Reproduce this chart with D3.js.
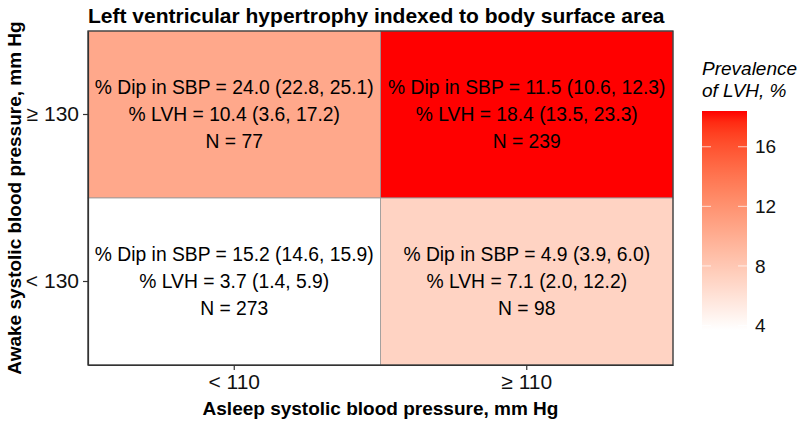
<!DOCTYPE html>
<html>
<head>
<meta charset="utf-8">
<script src="https://cdn.jsdelivr.net/npm/d3@7"></script>
<style>
  body { margin: 0; background: #fff; }
  text { font-family: "Liberation Sans", Arial, sans-serif; }
</style>
</head>
<body>
<div class="chart"></div>
<script>
var asleepCats = ["< 110", "≥ 110"];
var awakeCats = ["< 130", "≥ 130"];
var cellAsleep = ["< 110", "≥ 110", "< 110", "≥ 110"];
var cellAwake = ["≥ 130", "≥ 130", "< 130", "< 130"];
var lvh = [10.4, 18.4, 3.7, 7.1];
var dipText = ["24.0 (22.8, 25.1)", "11.5 (10.6, 12.3)", "15.2 (14.6, 15.9)", "4.9 (3.9, 6.0)"];
var lvhText = ["10.4 (3.6, 17.2)", "18.4 (13.5, 23.3)", "3.7 (1.4, 5.9)", "7.1 (2.0, 12.2)"];
var nText = [77, 239, 273, 98];
var legendTicks = [4, 8, 12, 16];

function init() {
  var w = 800, h = 422;
  var left = 88, right = 673, top = 31, bottom = 365;

  var svg = d3.select(".chart").append("svg")
    .attr("width", w).attr("height", h);

  var xScale = d3.scaleBand().domain(asleepCats).range([left, right]);
  var yScale = d3.scaleBand().domain(awakeCats).range([bottom, top]);
  var color = d3.scaleLinear().domain([3.7, 18.4]).range(["white", "red"])
    .interpolate(d3.interpolateLab);

  var cells = lvh.map(function(v, i) {
    return { x: cellAsleep[i], y: cellAwake[i], v: v, dip: dipText[i], l: lvhText[i], n: nText[i] };
  });

  svg.selectAll("rect.cell").data(cells).enter().append("rect")
    .attr("class", "cell")
    .attr("x", function(d) { return xScale(d.x); })
    .attr("y", function(d) { return yScale(d.y); })
    .attr("width", xScale.bandwidth())
    .attr("height", yScale.bandwidth())
    .attr("fill", function(d) { return color(d.v); })
    .attr("stroke", "#999")
    .attr("stroke-width", 0.8);

  var lab = svg.selectAll("g.lab").data(cells).enter().append("g")
    .attr("transform", function(d) {
      return "translate(" + (xScale(d.x) + xScale.bandwidth() / 2) + "," + (yScale(d.y) + yScale.bandwidth() / 2) + ")";
    });
  lab.append("text").attr("y", -27).text(function(d) { return "% Dip in SBP = " + d.dip; });
  lab.append("text").attr("y", 0).text(function(d) { return "% LVH = " + d.l; });
  lab.append("text").attr("y", 27).text(function(d) { return "N = " + d.n; });
  lab.selectAll("text")
    .attr("text-anchor", "middle")
    .attr("dy", "0.35em")
    .attr("font-size", "19.3px")
    .attr("fill", "#000");

  // panel border
  svg.append("rect")
    .attr("x", left).attr("y", top)
    .attr("width", right - left).attr("height", bottom - top)
    .attr("fill", "none").attr("stroke", "#333").attr("stroke-width", 1.2);

  var xAxis = svg.append("g")
    .attr("transform", "translate(0," + bottom + ")")
    .call(d3.axisBottom(xScale).tickSize(5).tickSizeOuter(0).tickPadding(4));
  var yAxis = svg.append("g")
    .attr("transform", "translate(" + left + ",0)")
    .call(d3.axisLeft(yScale).tickSize(5).tickSizeOuter(0).tickPadding(4));
  [xAxis, yAxis].forEach(function(a) {
    a.select(".domain").attr("stroke", "#333").attr("stroke-width", 1.2);
    a.selectAll(".tick line").attr("stroke", "#333").attr("stroke-width", 1.2);
    a.selectAll(".tick text").attr("font-size", "21px").attr("fill", "#111")
      .attr("font-family", "Liberation Sans, Arial, sans-serif");
  });

  svg.append("text")
    .attr("x", left).attr("y", 23)
    .attr("font-size", "21px").attr("font-weight", "bold")
    .text("Left ventricular hypertrophy indexed to body surface area");

  svg.append("text")
    .attr("x", (left + right) / 2).attr("y", 415)
    .attr("text-anchor", "middle")
    .attr("font-size", "19px").attr("font-weight", "bold")
    .text("Asleep systolic blood pressure, mm Hg");

  svg.append("text")
    .attr("transform", "translate(21," + ((top + bottom) / 2) + ") rotate(-90)")
    .attr("text-anchor", "middle")
    .attr("font-size", "19px").attr("font-weight", "bold")
    .text("Awake systolic blood pressure, mm Hg");

  // legend
  var lx = 702, lw = 45;
  var lScale = d3.scaleLinear().domain([3.7, 18.4]).range([330, 111]);
  var legend = svg.append("g");
  legend.append("text").attr("x", lx).attr("y", 75)
    .attr("font-size", "19px").attr("font-style", "italic").text("Prevalence");
  legend.append("text").attr("x", lx).attr("y", 97)
    .attr("font-size", "19px").attr("font-style", "italic").text("of LVH, %");

  var defs = svg.append("defs");
  var grad = defs.append("linearGradient").attr("id", "lg")
    .attr("x1", 0).attr("y1", 1).attr("x2", 0).attr("y2", 0);
  d3.range(0, 1.0001, 0.05).forEach(function(t) {
    grad.append("stop").attr("offset", t)
      .attr("stop-color", color(3.7 + t * (18.4 - 3.7)));
  });
  legend.append("rect")
    .attr("x", lx).attr("y", lScale(18.4))
    .attr("width", lw).attr("height", lScale(3.7) - lScale(18.4))
    .attr("fill", "url(#lg)");

  legend.selectAll("line.tl").data(legendTicks).enter().append("line")
    .attr("x1", lx).attr("x2", lx + 9)
    .attr("y1", function(d) { return lScale(d); })
    .attr("y2", function(d) { return lScale(d); })
    .attr("stroke", "white").attr("stroke-opacity", 0.7);
  legend.selectAll("line.tr").data(legendTicks).enter().append("line")
    .attr("x1", lx + lw - 9).attr("x2", lx + lw)
    .attr("y1", function(d) { return lScale(d); })
    .attr("y2", function(d) { return lScale(d); })
    .attr("stroke", "white").attr("stroke-opacity", 0.7);
  legend.selectAll("text.tk").data(legendTicks).enter().append("text")
    .attr("x", lx + lw + 8)
    .attr("y", function(d) { return lScale(d); })
    .attr("dy", "0.35em")
    .attr("font-size", "19px").attr("fill", "#111")
    .text(function(d) { return d; });
}

window.onload = init;
</script>
</body>
</html>
